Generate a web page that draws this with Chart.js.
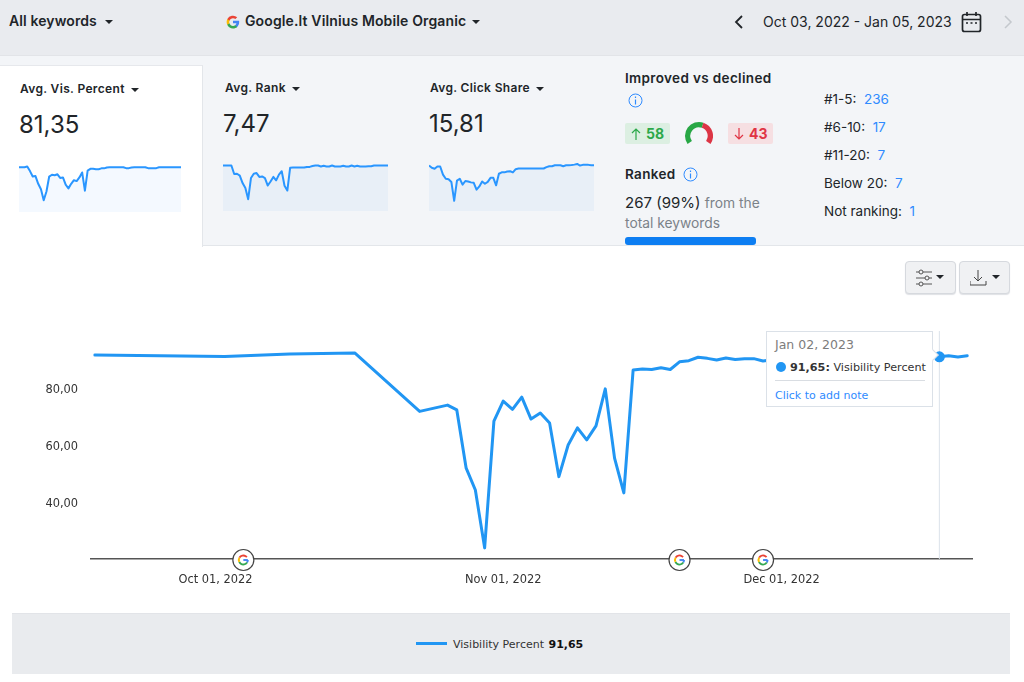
<!DOCTYPE html>
<html>
<head>
<meta charset="utf-8">
<title>Visibility Percent</title>
<script src="https://cdn.jsdelivr.net/npm/chart.js@4"></script>
<style>
  html, body { margin: 0; padding: 0; background: #fff; }
  #page { position: relative; width: 1024px; height: 682px; overflow: hidden; font-family: Inter, "Noto Sans", sans-serif; color: #212529; }
  #page > * { position: absolute; }
  .t { white-space: nowrap; line-height: 1; }
  .b { font-weight: 600; }
  .sp { letter-spacing: .35px; }
  .blue { color: #2f8bff; }
  .grey { color: #7b8289; }
  .caret { display: inline-block; width: 0; height: 0; border-left: 4px solid transparent; border-right: 4px solid transparent; border-top: 4px solid #212529; vertical-align: middle; margin-left: 6px; }
  .verd { font-family: "DejaVu Sans", sans-serif; }
  .btn { background: #f0f1f3; border: 1px solid #d6d9de; border-radius: 4px; box-sizing: border-box; box-shadow: 0 1px 1px #dfe1e5; }
</style>
</head>
<body>
<div id="page">
  <div style="left:0;top:0;width:1024px;height:55px;background:#e9ebef;border-bottom:1px solid #e2e4e8"></div>
  <div style="left:0;top:56px;width:1024px;height:189px;background:#f3f5f8;border-bottom:1px solid #e3e6ea"></div>
  <div style="left:0;top:65px;width:202px;height:181px;background:#fff;border-top:1px solid #e6e8ec;border-right:1px solid #e3e6ea"></div>

  <div class="t b" style="left:9px;top:14px;font-size:14px;letter-spacing:.1px">All keywords<span class="caret" style="margin-left:8px"></span></div>
  <svg style="left:226px;top:15px" width="14" height="14" viewBox="0 0 24 24">
    <path fill="#4285F4" d="M22.6 12.2c0-.8-.1-1.500-.2-2.200H12v4.300h5.900a5 5 0 0 1-2.200 3.300v2.800h3.500c2.100-1.900 3.400-4.800 3.400-8.200z"/>
    <path fill="#34A853" d="M12 23c3 0 5.400-1 7.200-2.600l-3.500-2.800c-1 .7-2.200 1.100-3.700 1.100-2.800 0-5.200-1.900-6.100-4.500H2.300v2.800A11 11 0 0 0 12 23z"/>
    <path fill="#FBBC05" d="M5.900 14.200a6.600 6.600 0 0 1 0-4.300V7H2.300a11 11 0 0 0 0 9.900z"/>
    <path fill="#EA4335" d="M12 5.400c1.600 0 3 .5 4.100 1.600l3.100-3.100A11 11 0 0 0 2.300 7l3.600 2.800C6.800 7.300 9.200 5.400 12 5.400z"/>
  </svg>
  <div class="t b" style="left:245px;top:14px;font-size:14px;letter-spacing:.13px">Google.lt Vilnius Mobile Organic<span class="caret"></span></div>

  <svg style="left:733px;top:14px" width="12" height="16" viewBox="0 0 12 16"><path d="M9 2 L3 8 L9 14" fill="none" stroke="#212529" stroke-width="1.800"/></svg>
  <div class="t" style="left:763px;top:15px;font-size:14px">Oct 03, 2022 - Jan 05, 2023</div>
  <svg style="left:961px;top:11px" width="21" height="22" viewBox="0 0 21 22"><rect x="1.500" y="3.500" width="18" height="17" rx="2" fill="none" stroke="#212529" stroke-width="1.700"/><path d="M1.500 8.500H19.500M6 1V5M15 1V5" stroke="#212529" stroke-width="1.700"/><path d="M5 12h2M9.500 12h2M14 12h2" stroke="#212529" stroke-width="1.500"/></svg>
  <svg style="left:1002px;top:14px" width="12" height="16" viewBox="0 0 12 16"><path d="M3 2 L9 8 L3 14" fill="none" stroke="#c4c8cd" stroke-width="1.500"/></svg>

  <div class="t b sp" style="left:20px;top:83px;font-size:12px">Avg. Vis. Percent<span class="caret"></span></div>
  <div class="t" style="left:19px;top:113px;font-size:24px">81,35</div>
  <canvas id="sparkVis" style="left:19px;top:162px;width:162px;height:50px"></canvas>

  <div class="t b sp" style="left:225px;top:82px;font-size:12px">Avg. Rank<span class="caret"></span></div>
  <div class="t" style="left:223px;top:112px;font-size:24px">7,47</div>
  <canvas id="sparkRank" style="left:223px;top:161px;width:165px;height:50px"></canvas>

  <div class="t b sp" style="left:430px;top:82px;font-size:12px">Avg. Click Share<span class="caret"></span></div>
  <div class="t" style="left:429px;top:112px;font-size:24px">15,81</div>
  <canvas id="sparkClick" style="left:429px;top:161px;width:165px;height:50px"></canvas>

  <div class="t b sp" style="left:625px;top:72px;font-size:13.500px">Improved vs declined</div>
  <svg style="left:628px;top:93px" width="15" height="15" viewBox="0 0 15 15"><circle cx="7.500" cy="7.500" r="6.500" fill="none" stroke="#2f8bff"/><path d="M7.500 6.500V11.500M7.500 3.500V5" stroke="#2f8bff" stroke-width="1.200"/></svg>

  <div style="left:625px;top:123px;width:45px;height:21px;background:#dcefe2;border-radius:2px"></div>
  <svg style="left:630px;top:127px" width="12" height="14" viewBox="0 0 12 14"><path d="M6 13V2M2 6L6 2L10 6" fill="none" stroke="#2ba84a" stroke-width="1.200"/></svg>
  <div class="t b" style="left:646px;top:127px;font-size:14px;color:#2ba84a;font-weight:700">58</div>
  <canvas id="gauge" style="left:685px;top:119px;width:28px;height:28px"></canvas>
  <div style="left:728px;top:123px;width:45px;height:21px;background:#f6dfe2;border-radius:2px"></div>
  <svg style="left:733px;top:127px" width="12" height="14" viewBox="0 0 12 14"><path d="M6 1V12M2 8L6 12L10 8" fill="none" stroke="#e03444" stroke-width="1.200"/></svg>
  <div class="t b" style="left:749px;top:127px;font-size:14px;color:#e03444;font-weight:700">43</div>

  <div class="t b sp" style="left:625px;top:168px;font-size:13.500px">Ranked</div>
  <svg style="left:683px;top:167px" width="15" height="15" viewBox="0 0 15 15"><circle cx="7.500" cy="7.500" r="6.500" fill="none" stroke="#2f8bff"/><path d="M7.500 6.500V11.500M7.500 3.500V5" stroke="#2f8bff" stroke-width="1.200"/></svg>
  <div class="t" style="left:625px;top:195px;font-size:15px">267 (99%) <span class="grey" style="font-size:13.800px">from the</span></div>
  <div class="t grey" style="left:625px;top:217px;font-size:13.800px">total keywords</div>
  <div style="left:625px;top:237px;width:131px;height:8px;background:#0d7ef2;border-radius:3px"></div>

  <div class="t" style="left:824px;top:93px;font-size:13.500px">#1-5:&nbsp; <span class="blue">236</span></div>
  <div class="t" style="left:824px;top:121px;font-size:13.500px">#6-10:&nbsp; <span class="blue">17</span></div>
  <div class="t" style="left:824px;top:149px;font-size:13.500px">#11-20:&nbsp; <span class="blue">7</span></div>
  <div class="t" style="left:824px;top:177px;font-size:13.500px">Below 20:&nbsp; <span class="blue">7</span></div>
  <div class="t" style="left:824px;top:205px;font-size:13.500px">Not ranking:&nbsp; <span class="blue">1</span></div>

  <div class="btn" style="left:905px;top:261px;width:51px;height:33px"></div>
  <svg style="left:916px;top:269px" width="34" height="18" viewBox="0 0 34 18"><path d="M0 3H16M0 9H16M0 15H16" stroke="#555" stroke-width="1"/><circle cx="5" cy="3" r="2" fill="#f0f1f3" stroke="#555"/><circle cx="11" cy="9" r="2" fill="#f0f1f3" stroke="#555"/><circle cx="5" cy="15" r="2" fill="#f0f1f3" stroke="#555"/><path d="M20 6h8l-4 4z" fill="#212529"/></svg>
  <div class="btn" style="left:959px;top:261px;width:51px;height:33px"></div>
  <svg style="left:970px;top:269px" width="34" height="18" viewBox="0 0 34 18"><path d="M8 1V12M4 8L8 12L12 8M0 12V16H16V12" fill="none" stroke="#444" stroke-width="1"/><path d="M22 6h8l-4 4z" fill="#212529"/></svg>

  <canvas id="mainChart" style="left:0;top:300px;width:1024px;height:300px"></canvas>

  <div style="left:766px;top:331px;width:167px;height:76px;box-sizing:border-box;background:#fff;border:1.500px solid #dbe1e8"></div>
  <div style="left:929px;top:351px;width:7px;height:7px;background:#fff;transform:rotate(45deg);border-top:1px solid #dbe1e8;border-right:1px solid #dbe1e8"></div>
  <div class="t verd" style="left:775px;top:339px;font-size:12.500px;color:#7c7c7c">Jan 02, 2023</div>
  <div style="left:776px;top:362px;width:10px;height:10px;border-radius:50%;background:#2196f3"></div>
  <div class="t verd" style="left:790px;top:362px;font-size:11.200px;color:#333"><b>91,65:</b> Visibility Percent</div>
  <div style="left:775px;top:380px;width:150px;height:1px;background:#d9dde2"></div>
  <div class="t verd blue" style="left:775px;top:390px;font-size:11px">Click to add note</div>

  <div style="left:12px;top:613px;width:998px;height:61px;background:#e9ebee;border-top:1px solid #e2e4e8;box-sizing:border-box"></div>
  <div style="left:416px;top:642px;width:31px;height:3px;background:#2196f3"></div>
  <div class="t verd" style="left:453px;top:639px;font-size:11px;color:#333">Visibility Percent <b style="color:#111;margin-left:1px">91,65</b></div>
</div>

<script>
// main series, x is days from Oct 01 2022 as spaced on the picture's axis
const days = [-13, 1, 8, 15, 22, 25, 26, 27, 28, 29, 30, 31, 32, 33, 34, 35, 36, 37, 38, 39, 40, 41, 42, 43, 44, 45, 46, 47, 48, 49, 50, 51, 52, 53, 54, 55, 56, 57, 58, 59, 60, 61, 62, 63, 64, 65, 66, 67, 68, 69, 70, 71, 72, 73, 74, 75, 76, 77, 78, 79, 80, 81]
const visibilityPercent = [92.3, 91.75, 92.6, 93, 72.5, 74.7, 73, 52.7, 44.9, 24.6, 69.1, 76.1, 73.2, 77.5, 69.8, 71.9, 68.4, 49.6, 60.7, 66.7, 62.5, 67.4, 80.4, 56.1, 43.9, 87, 87.4, 87.2, 87.8, 87.2, 89.9, 90.3, 91.5, 91.1, 90.5, 91.2, 90.7, 91, 91, 90.2, 90.6, 90.9, 91, 91.2, 91, 91.3, 91.1, 91.2, 91.4, 91.2, 91.3, 91.5, 91.4, 91.5, 91.6, 91.5, 91.6, 91.7, 91.65, 92, 91.6, 92]
const yTicks = [40, 60, 80]
const xTickDays = [0, 31, 61]
const xTickLabels = ['Oct 01, 2022', 'Nov 01, 2022', 'Dec 01, 2022']
const updateDays = [3, 50, 59]
const hoverDay = 78

// sparklines, 0-110 scale
const sparkVisValues = [98.5, 98.5, 98.5, 100, 90, 78, 79, 62, 50, 26, 45, 78, 82, 81, 83, 75, 76, 60, 52, 62, 70, 68, 76, 87, 47, 91, 95, 95, 94, 94, 96, 96, 98, 98.5, 98.5, 98.5, 98.5, 98.5, 98.5, 96.5, 96.5, 98, 98.5, 98.5, 98.5, 98.5, 98.5, 96.5, 96.5, 96.5, 96.5, 98.5, 98.5, 98.5, 98.5, 98.5, 98.5, 98.5, 98.5, 98.5]
const sparkRankValues = [100, 100, 100, 100, 81.5, 82, 78, 61.5, 50.5, 26, 72.5, 82, 83.5, 75, 76, 72.5, 56, 65, 75, 67.5, 80, 87.5, 55.5, 45, 95, 95.5, 95.5, 95.5, 95.5, 95.5, 97, 97, 99, 100, 100, 98, 99.5, 98, 98, 100, 98, 98, 98, 99.5, 98, 98, 100, 98, 99.5, 98, 98, 98, 98.5, 98.5, 100, 100, 100, 100, 100, 100]
const sparkClickValues = [100, 95, 93, 98, 98, 80, 71, 70, 64, 22.5, 67, 71, 58, 66, 65, 63, 62, 47, 54, 65, 60, 64, 73, 73, 56.5, 82, 85, 85, 87, 87.5, 85, 92, 93.5, 93.5, 93.5, 93.5, 93.5, 93.5, 93.5, 93.5, 93.5, 93.5, 96.5, 98.5, 98.5, 100.5, 100.5, 100.5, 98.5, 100.5, 100.5, 101, 102, 103.5, 100, 101.5, 101.5, 101.5, 100.5, 100.5]

const improved = 58
const declined = 43

const lineColor = '#2196f3'
const labelFont = { family: '"DejaVu Sans"', size: 11.4 }

const formatValue = (v) => v.toFixed(2).replace('.', ',')

function drawGoogleMark(ctx, x, y) {
  ctx.save()
  ctx.beginPath()
  ctx.arc(x, y, 10.5, 0, Math.PI * 2)
  ctx.fillStyle = '#fff'
  ctx.fill()
  ctx.lineWidth = 1.2
  ctx.strokeStyle = '#444'
  ctx.stroke()
  ctx.lineWidth = 1.9
  const arcs = [['#4285f4', 0, 0.6], ['#34a853', 0.6, 2.7], ['#fbbc05', 2.7, 3.7], ['#ea4335', 3.7, 5.6]]
  arcs.forEach(([color, from, to]) => {
    ctx.beginPath()
    ctx.strokeStyle = color
    ctx.arc(x, y, 4.5, from, to)
    ctx.stroke()
  })
  ctx.beginPath()
  ctx.strokeStyle = '#4285f4'
  ctx.moveTo(x + 4.5, y)
  ctx.lineTo(x, y)
  ctx.stroke()
  ctx.restore()
}

const markersPlugin = {
  id: 'markers',
  beforeDatasetsDraw(chart) {
    const { ctx, chartArea, scales } = chart
    const x = scales.x.getPixelForValue(hoverDay)
    ctx.save()
    ctx.strokeStyle = '#dbe2ea'
    ctx.lineWidth = 1
    ctx.beginPath()
    ctx.moveTo(x, chartArea.top)
    ctx.lineTo(x, chartArea.bottom)
    ctx.stroke()
    ctx.restore()
  },
  afterDraw(chart) {
    const { ctx, chartArea, scales } = chart
    updateDays.forEach((d) => drawGoogleMark(ctx, scales.x.getPixelForValue(d), chartArea.bottom + 1))
  }
}

new Chart(document.getElementById('mainChart'), {
  type: 'line',
  data: {
    datasets: [{
      data: days.map((d, i) => ({ x: d, y: visibilityPercent[i] })),
      borderColor: lineColor,
      backgroundColor: lineColor,
      borderWidth: 3,
      borderJoinStyle: 'round',
      borderCapStyle: 'round',
      tension: 0,
      pointRadius: (c) => (days[c.dataIndex] === hoverDay ? 4 : 0)
    }]
  },
  plugins: [markersPlugin],
  options: {
    responsive: false,
    animation: false,
    layout: { padding: { top: 31, right: 51.5, left: 0, bottom: 0 } },
    plugins: { legend: { display: false }, tooltip: { enabled: false } },
    scales: {
      x: {
        type: 'linear',
        min: -13.47,
        max: 81.57,
        grid: { display: false, drawTicks: false },
        border: { color: '#555', width: 1.5 },
        afterFit: (s) => { s.height = 41 },
        afterBuildTicks: (s) => { s.ticks = xTickDays.map((v) => ({ value: v })) },
        ticks: {
          autoSkip: false,
          maxRotation: 0,
          padding: 14,
          color: '#333',
          font: labelFont,
          callback: (v) => xTickLabels[xTickDays.indexOf(v)]
        }
      },
      y: {
        min: 20.7,
        max: 100.7,
        grid: { display: false, drawTicks: false },
        border: { display: false },
        afterFit: (s) => { s.width = 90.5 },
        afterBuildTicks: (s) => { s.ticks = yTicks.map((v) => ({ value: v })) },
        ticks: { padding: 12.5, color: '#333', font: labelFont, callback: formatValue }
      }
    }
  }
})

function createSpark(canvasId, values, fillColor) {
  new Chart(document.getElementById(canvasId), {
    type: 'line',
    data: {
      labels: values.map((v, i) => i),
      datasets: [{
        data: values,
        borderColor: '#2a96ff',
        backgroundColor: fillColor,
        borderWidth: 2,
        borderJoinStyle: 'round',
        fill: 'start',
        tension: 0,
        pointRadius: 0
      }]
    },
    options: {
      responsive: false,
      animation: false,
      layout: { padding: 0 },
      plugins: { legend: { display: false }, tooltip: { enabled: false } },
      scales: {
        x: { display: false },
        y: { display: false, min: 0, max: 110 }
      }
    }
  })
}

createSpark('sparkVis', sparkVisValues, '#f4f9ff')
createSpark('sparkRank', sparkRankValues, '#e8eff7')
createSpark('sparkClick', sparkClickValues, '#e8eff7')

new Chart(document.getElementById('gauge'), {
  type: 'doughnut',
  data: {
    datasets: [{ data: [improved, declined], backgroundColor: ['#28a745', '#dc3545'], borderWidth: 0 }]
  },
  options: {
    responsive: false,
    animation: false,
    rotation: -125,
    circumference: 250,
    cutout: '62%',
    plugins: { legend: { display: false }, tooltip: { enabled: false } }
  }
})
</script>
</body>
</html>
